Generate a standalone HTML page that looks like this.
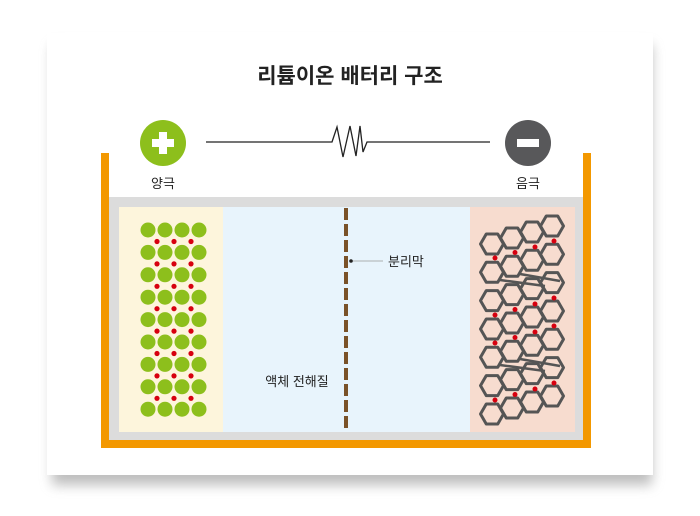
<!DOCTYPE html>
<html><head><meta charset="utf-8"><style>
html,body{margin:0;padding:0;background:#fff;}
body{width:700px;height:511px;overflow:hidden;position:relative;font-family:"Liberation Sans","Noto Sans CJK KR",sans-serif;}
</style></head><body>
<svg width="700" height="511" viewBox="0 0 700 511" xmlns="http://www.w3.org/2000/svg">
<defs>
<filter id="sh" x="-10%" y="-10%" width="120%" height="130%"><feGaussianBlur stdDeviation="6"/></filter>
<polygon id="hx" points="-11.5,0 -5.75,-10 5.75,-10 11.5,0 5.75,10 -5.75,10" fill="none" stroke="#555" stroke-width="3" stroke-linejoin="round"/>
</defs>
<rect x="52" y="45" width="600" height="440" fill="#888" opacity="0.55" filter="url(#sh)"/>
<rect x="47" y="33" width="606" height="442" fill="#fff"/>
<text x="350" y="83" text-anchor="middle" font-size="21" font-weight="bold" fill="#222">리튬이온 배터리 구조</text>
<circle cx="163" cy="143" r="23" fill="#8dbf1c"/>
<rect x="152" y="139" width="22" height="8" fill="#fff"/><rect x="159" y="132" width="8" height="22" fill="#fff"/>
<circle cx="528" cy="143" r="23" fill="#58585a"/>
<rect x="517" y="139" width="22" height="8" fill="#fff"/>
<text x="163" y="188" text-anchor="middle" font-size="13" fill="#222">양극</text>
<text x="528" y="188" text-anchor="middle" font-size="13" fill="#222">음극</text>
<polyline points="206,142 332,142 337,127 343,157 350,126 356,156 360,126 363,152 367,142 490,142" fill="none" stroke="#222" stroke-width="1.3"/>
<rect x="101" y="153" width="8" height="294" fill="#f39800"/>
<rect x="583" y="153" width="8" height="294" fill="#f39800"/>
<rect x="101" y="440" width="490" height="8" fill="#f39800"/>
<rect x="109" y="197" width="474" height="243" fill="#dcdcdc"/>
<rect x="119" y="207" width="104" height="225" fill="#fdf5dc"/>
<rect x="223" y="207" width="247" height="225" fill="#e8f4fc"/>
<rect x="470" y="207" width="105" height="225" fill="#f7dccf"/>
<line x1="346" y1="208" x2="346" y2="432" stroke="#7a5228" stroke-width="4" stroke-dasharray="12,4"/>
<line x1="351" y1="261" x2="383" y2="261" stroke="#999" stroke-width="0.8"/>
<circle cx="351" cy="261" r="1.8" fill="#222"/>
<text x="388" y="266" font-size="13" fill="#222">분리막</text>
<text x="297" y="386" text-anchor="middle" font-size="13" fill="#222">액체 전해질</text>
<g fill="#8dbf1c">
<g id="crow"><circle cx="148" cy="230" r="7.5"/><circle cx="165" cy="230" r="7.5"/><circle cx="182" cy="230" r="7.5"/><circle cx="199" cy="230" r="7.5"/></g>
<use href="#crow" y="22.4"/><use href="#crow" y="44.8"/><use href="#crow" y="67.2"/><use href="#crow" y="89.6"/><use href="#crow" y="112"/><use href="#crow" y="134.4"/><use href="#crow" y="156.8"/><use href="#crow" y="179.2"/>
</g>
<g fill="#d7000f">
<g id="drow"><circle cx="157" cy="241.5" r="2.6"/><circle cx="174" cy="241.5" r="2.6"/><circle cx="191" cy="241.5" r="2.6"/></g>
<use href="#drow" y="22.4"/><use href="#drow" y="44.8"/><use href="#drow" y="67.2"/><use href="#drow" y="89.6"/><use href="#drow" y="112"/><use href="#drow" y="134.4"/><use href="#drow" y="156.8"/>
</g>
<g id="strip"><use href="#hx" x="492" y="244"/><use href="#hx" x="512" y="238"/><use href="#hx" x="532" y="232"/><use href="#hx" x="552" y="226"/></g>
<use href="#strip" y="28.3"/><use href="#strip" y="56.6"/><use href="#strip" y="85"/><use href="#strip" y="113.3"/><use href="#strip" y="141.6"/><use href="#strip" y="170"/>
<g stroke="#555" stroke-width="2.5">
<line x1="500" y1="280" x2="545" y2="286"/><line x1="520" y1="274" x2="560" y2="281"/>
<line x1="500" y1="365" x2="545" y2="371"/><line x1="520" y1="359" x2="560" y2="366"/>
</g>
<g fill="#d7000f">
<g id="rd"><circle cx="495" cy="258" r="2.5"/><circle cx="515" cy="252.5" r="2.5"/><circle cx="535" cy="247" r="2.5"/><circle cx="554" cy="241" r="2.5"/></g>
<use href="#rd" y="57"/><use href="#rd" y="85"/><use href="#rd" y="142"/>
</g>
</svg>
</body></html>
